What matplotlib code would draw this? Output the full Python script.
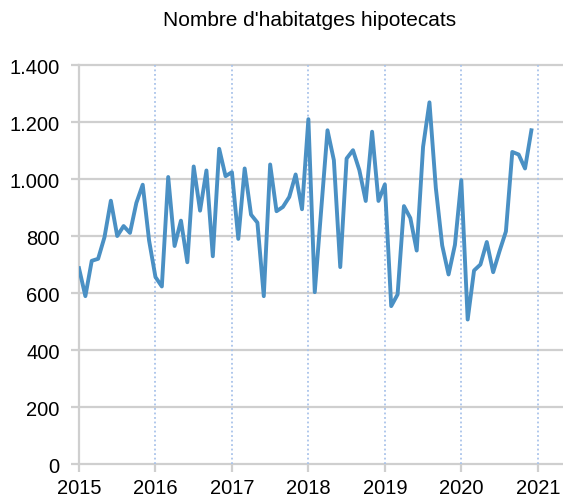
import matplotlib
matplotlib.use("Agg")
import matplotlib.pyplot as plt
import numpy as np
from matplotlib.ticker import FuncFormatter

plt.rcParams["font.family"] = ["Liberation Sans", "DejaVu Sans"]

# monthly values, Jan 2015 .. Dec 2020
years = [2015, 2016, 2017, 2018, 2019, 2020]
v2015 = [688, 590, 714, 721, 797, 925, 801, 836, 812, 917, 981, 785]
v2016 = [657, 624, 1008, 766, 855, 709, 1045, 890, 1031, 730, 1107, 1011]
v2017 = [1025, 791, 1038, 876, 848, 590, 1052, 888, 903, 938, 1017, 895]
v2018 = [1211, 604, 890, 1172, 1067, 692, 1073, 1102, 1032, 924, 1167, 924]
v2019 = [982, 555, 596, 906, 864, 750, 1114, 1270, 970, 768, 666, 770]
v2020 = [997, 508, 680, 701, 780, 674, 748, 817, 1096, 1087, 1038, 1172]
values = v2015 + v2016 + v2017 + v2018 + v2019 + v2020

title = "Nombre d'habitatges hipotecats"
year_ticks = [2015, 2016, 2017, 2018, 2019, 2020, 2021]
y_ticks = [0, 200, 400, 600, 800, 1000, 1200, 1400]

x = np.array([y + m / 12 for y in years for m in range(12)])

W, H = 563, 502
fig = plt.figure(figsize=(W / 100, H / 100), dpi=100)
ax = fig.add_axes([79 / W, 1 - 465.3 / H, (W - 79) / W, (465.3 - 66.3) / H])

grid_c = "#cfcfcf"
for yt in y_ticks:
    ax.axhline(yt, color=grid_c, lw=1.6, zorder=1, clip_on=False)
for yr in year_ticks[1:]:
    ax.axvline(yr, color="#a9c3ea", lw=1.3, ls=(0, (1, 1.5)), zorder=1)

ax.plot(x, values, color="#4a90c4", lw=2.8, zorder=3)

ax.set_xlim(2015, 2021.33)
ax.set_ylim(0, 1400)
ax.set_xticks(year_ticks)
ax.set_yticks(y_ticks)
ax.yaxis.set_major_formatter(FuncFormatter(lambda v, p: f"{int(v):,}".replace(",", ".")))

for s in ["top", "right", "bottom"]:
    ax.spines[s].set_visible(False)
ax.spines["left"].set_color(grid_c)
ax.spines["left"].set_linewidth(1.6)
ax.tick_params(axis="both", colors=grid_c, length=6, width=1.6,
               labelcolor="black", labelsize=14.5)
ax.tick_params(axis="y", pad=8)
ax.tick_params(axis="x", pad=4)

fig.text(310 / W, 1 - 21 / H, title, ha="center", va="center", fontsize=15)

fig.savefig("out.png", dpi=100)
